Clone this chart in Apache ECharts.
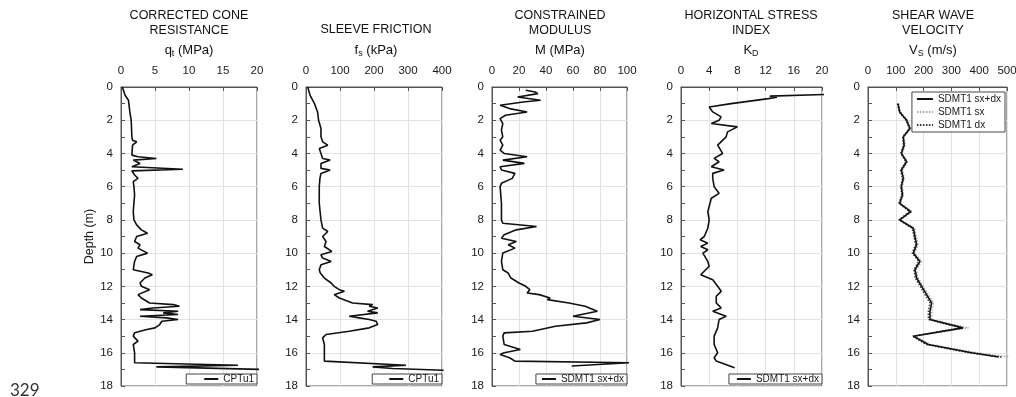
<!DOCTYPE html>
<html>
<head>
<meta charset="utf-8">
<script src="https://cdn.jsdelivr.net/npm/echarts@6/dist/echarts.min.js"></script>
<style>
  html, body { margin: 0; padding: 0; background: #fff; }
  #chart { width: 1016px; height: 397px; }
</style>
</head>
<body>
<div id="chart"></div>
<script>
// depth profiles (depth in m)
const qtDepth = [0, 0.5, 0.8, 1.5, 2, 3, 3.2, 3.3, 3.5, 4.1, 4.2, 4.3, 4.4, 4.6, 4.8, 4.95, 5.05, 5.3, 5.5, 5.7, 6, 6.5, 7, 7.5, 8, 8.3, 8.6, 8.8, 9.0, 9.3, 9.5, 9.7, 10.0, 10.2, 10.5, 11, 11.2, 11.3, 11.5, 11.8, 12, 12.2, 12.5, 12.7, 13.0, 13.1, 13.2, 13.3, 13.4, 13.5, 13.6, 13.7, 13.8, 13.9, 14.0, 14.1, 14.3, 14.5, 14.6, 14.8, 15.0, 15.3, 15.5, 16, 16.6, 16.75, 16.85, 16.9, 17.0]
const qt = [0.2, 0.6, 1.1, 1.3, 1.5, 1.6, 1.7, 2.3, 1.7, 1.6, 2.5, 5.2, 1.8, 2.8, 1.6, 9.1, 1.6, 2.0, 2.5, 1.8, 1.9, 2.0, 1.9, 1.8, 1.9, 2.3, 3.0, 3.9, 2.3, 2.0, 2.8, 2.5, 3.9, 2.3, 2.0, 1.8, 4.0, 4.6, 3.5, 2.8, 3.0, 4.2, 2.5, 3.0, 4.2, 7.7, 8.6, 4.7, 2.8, 8.4, 6.2, 8.4, 2.8, 6.7, 8.4, 6.0, 5.7, 5.0, 3.8, 2.0, 1.8, 2.5, 1.8, 2.0, 2.0, 17.2, 5.2, 5.0, 20.5]

const fsDepth = [0, 0.5, 1, 1.5, 2, 2.5, 3, 3.3, 3.5, 3.7, 4, 4.3, 4.4, 4.6, 4.9, 5.0, 5.2, 5.5, 6, 7, 8, 8.5, 8.7, 9, 9.3, 9.6, 9.9, 10.1, 10.3, 10.5, 10.7, 11, 11.2, 11.5, 11.8, 12.0, 12.2, 12.3, 12.5, 12.7, 13.0, 13.1, 13.2, 13.3, 13.5, 13.6, 13.8, 13.9, 14.0, 14.1, 14.3, 14.5, 14.7, 14.9, 15.1, 15.5, 16, 16.5, 16.6, 16.75, 16.85, 16.95, 17.05]
const fs = [5, 12, 25, 34, 37, 44, 44, 49, 64, 39, 44, 49, 71, 44, 44, 71, 44, 41, 39, 39, 44, 49, 64, 49, 59, 54, 76, 44, 49, 74, 44, 39, 42, 54, 74, 83, 98, 113, 83, 98, 137, 196, 186, 211, 181, 211, 127, 157, 186, 206, 211, 186, 127, 59, 49, 54, 54, 54, 59, 294, 196, 255, 405]

const mDepth = [0.2, 0.3, 0.4, 0.6, 0.8, 0.9, 1.1, 1.3, 1.5, 1.7, 1.9, 2.2, 2.6, 3.0, 3.2, 3.5, 3.8, 4.0, 4.2, 4.4, 4.6, 4.8, 5.0, 5.2, 5.5, 5.8, 6, 7, 8, 8.2, 8.4, 8.6, 8.9, 9.1, 9.3, 9.5, 9.7, 10, 10.5, 11, 11.2, 11.5, 11.8, 12.0, 12.2, 12.4, 12.5, 12.7, 12.8, 13.0, 13.2, 13.5, 13.8, 14.0, 14.2, 14.4, 14.7, 14.8, 15.0, 15.5, 15.8, 16.0, 16.1, 16.3, 16.5, 16.6, 16.8]
const modulus = [25, 32, 34, 19, 36, 23, 6, 13, 26, 10, 6, 8, 7, 8, 6, 8, 6, 9, 26, 8, 24, 6, 7, 17, 15, 7, 6, 7, 7, 8, 33, 18, 9, 7, 18, 12, 17, 8, 7, 8, 12, 14, 20, 25, 28, 26, 35, 43, 41, 57, 69, 78, 60, 80, 70, 47, 30, 9, 8, 9, 21, 9, 6, 13, 17, 102, 59]

const kdDepth = [0.45, 0.55, 0.62, 0.7, 1.0, 1.2, 1.5, 1.8, 2.0, 2.2, 2.4, 2.7, 3.0, 3.5, 4.0, 4.3, 4.5, 4.8, 5.0, 5.2, 5.5, 6.0, 6.4, 6.7, 7.5, 8, 8.5, 9, 9.2, 9.4, 9.6, 9.8, 10.0, 10.5, 10.8, 11.0, 11.3, 11.6, 12.0, 12.3, 12.6, 13.0, 13.3, 13.5, 13.8, 14.0, 14.5, 15, 15.5, 16, 16.3, 16.5, 16.6, 16.9]
const kd = [20.5, 12.6, 13.6, 12.4, 7.1, 4.0, 4.5, 5.7, 5.4, 4.3, 8.0, 6.6, 6.4, 5.2, 5.9, 4.7, 5.4, 4.3, 6.1, 4.5, 4.5, 4.7, 5.4, 4.3, 3.8, 4.0, 3.8, 3.3, 2.7, 3.8, 2.8, 3.8, 3.1, 3.8, 4.0, 3.5, 2.8, 4.5, 5.2, 5.7, 5.0, 5.0, 5.7, 4.5, 6.4, 5.4, 5.2, 4.7, 4.7, 5.2, 4.7, 5.0, 5.0, 7.6]

const vsDepth = [1.0, 1.5, 2.0, 2.5, 3.0, 3.5, 4.0, 4.5, 5.0, 5.5, 6.0, 6.5, 7.0, 7.5, 8.0, 8.5, 9.0, 9.5, 10.0, 10.5, 11.0, 11.5, 12.0, 12.5, 13.0, 13.5, 14.0, 14.5, 15.0, 15.5, 16.0, 16.25]
const vsMean = [108, 114, 139, 151, 127, 130, 120, 139, 120, 127, 120, 124, 114, 154, 114, 163, 169, 175, 163, 187, 169, 175, 193, 211, 229, 223, 223, 342, 163, 217, 373, 470]
const vsSx = [110, 117, 142, 155, 130, 134, 123, 142, 124, 131, 123, 128, 117, 160, 118, 168, 174, 180, 168, 193, 174, 181, 199, 218, 236, 230, 230, 362, 168, 225, 392, 505]
const vsDx = [106, 112, 137, 148, 125, 127, 118, 136, 117, 124, 118, 121, 111, 149, 111, 159, 165, 171, 159, 182, 165, 170, 188, 205, 223, 217, 217, 334, 159, 210, 362, 480]

const depthTicks = [0, 18, 2]

const FONT = "'Liberation Sans', Arial, sans-serif"
const NARROW = "'Liberation Sans Narrow', 'Liberation Sans', Arial, sans-serif"

const toPoints = (depths, vals) => vals.map((v, i) => [v, depths[i]])

const panels = [
    { left: 121, width: 136, max: 20, interval: 5, title: 'CORRECTED CONE\nRESISTANCE', unit: 'q{sub|t} (MPa)', cx: 189 },
    { left: 306, width: 136, max: 400, interval: 100, title: 'SLEEVE FRICTION', unit: 'f{sub|s} (kPa)', cx: 376 },
    { left: 492, width: 135, max: 100, interval: 20, title: 'CONSTRAINED\nMODULUS', unit: 'M (MPa)', cx: 560 },
    { left: 681, width: 141, max: 20, interval: 4, title: 'HORIZONTAL STRESS\nINDEX', unit: 'K{sub|D}', cx: 751 },
    { left: 868, width: 139, max: 500, interval: 100, title: 'SHEAR WAVE\nVELOCITY', unit: 'V{sub|S} (m/s)', cx: 933 }
]

const line = (name, idx, data, extra) => Object.assign({
    name: name,
    type: 'line',
    xAxisIndex: idx,
    yAxisIndex: idx,
    data: data,
    symbol: 'none',
    clip: true,
    lineStyle: { color: '#111', width: 1.6 },
    itemStyle: { color: '#111' }
}, extra || {})

const series = [
    line('CPTu1', 0, toPoints(qtDepth, qt)),
    line('CPTu1', 1, toPoints(fsDepth, fs)),
    line('SDMT1 sx+dx', 2, toPoints(mDepth, modulus)),
    line('SDMT1 sx+dx', 3, toPoints(kdDepth, kd)),
    line('SDMT1 sx', 4, toPoints(vsDepth, vsSx), {
        lineStyle: { color: '#aaa', width: 1.4, type: [1.5, 1.5] }, itemStyle: { color: '#aaa' }
    }),
    line('SDMT1 dx', 4, toPoints(vsDepth, vsDx), {
        lineStyle: { color: '#333', width: 1.4, type: [1.5, 1.5] }, itemStyle: { color: '#333' }
    }),
    line('SDMT1 sx+dx', 4, toPoints(vsDepth, vsMean))
]

const legendBase = {
    borderColor: '#444',
    borderWidth: 1,
    borderRadius: 0,
    itemWidth: 14,
    itemHeight: 8,
    itemGap: 1,
    itemStyle: { opacity: 0 },
    textStyle: { fontSize: 10, color: '#1a1a1a', fontFamily: FONT },
    backgroundColor: '#fff'
}

const legends = [
    Object.assign({}, legendBase, { data: ['CPTu1'], right: 1016 - 257, bottom: 13, padding: [0, 3, 0, 17] }),
    Object.assign({}, legendBase, { data: ['CPTu1'], right: 1016 - 442, bottom: 13, padding: [0, 3, 0, 16] }),
    Object.assign({}, legendBase, { data: ['SDMT1 sx+dx'], right: 1016 - 627, bottom: 13, padding: [0, 3, 0, 5] }),
    Object.assign({}, legendBase, { data: ['SDMT1 sx+dx'], right: 1016 - 822, bottom: 13, padding: [0, 3, 0, 7] }),
    Object.assign({}, legendBase, {
        data: ['SDMT1 sx+dx', 'SDMT1 sx', 'SDMT1 dx'], orient: 'vertical', align: 'left',
        right: 1016 - 1005, top: 92, padding: [2, 4, 2, 4], itemGap: 3, itemWidth: 16
    })
]

const titleTexts = []
panels.forEach(p => {
    const twoLines = p.title.indexOf('\n') >= 0
    titleTexts.push({
        type: 'text', x: p.cx, y: twoLines ? 23 : 30,
        style: {
            text: p.title, align: 'center', verticalAlign: 'middle',
            fontSize: 12.5, lineHeight: 14.5, fontFamily: FONT, fill: '#111'
        }
    })
    titleTexts.push({
        type: 'text', x: p.cx, y: 50,
        style: {
            text: p.unit, align: 'center', verticalAlign: 'middle',
            fontSize: 13, fontFamily: FONT, fill: '#111',
            rich: { sub: { fontSize: 9, fontFamily: FONT, fill: '#111', padding: [7, 0, 0, 0] } }
        }
    })
})
titleTexts.push({
    type: 'text', x: 10, y: 382,
    style: { text: '329', fontSize: 17, fontFamily: "Lato, 'Open Sans', sans-serif", fill: '#333' }
})

const myChart = echarts.init(document.querySelector('#chart'), null, { renderer: 'canvas' })
myChart.setOption({
    animation: false,
    backgroundColor: '#fff',
    grid: panels.map(p => ({
        left: p.left, width: p.width, top: 87, height: 299,
        show: true, borderColor: '#555', borderWidth: 1, backgroundColor: 'transparent',
        containLabel: false, outerBoundsMode: 'none'
    })),
    xAxis: panels.map((p, i) => ({
        type: 'value',
        gridIndex: i,
        position: 'top',
        min: 0,
        max: p.max,
        interval: p.interval,
        axisLine: { show: true, lineStyle: { color: '#555', width: 1 } },
        axisTick: { show: true, inside: true, length: 4, lineStyle: { color: '#555' } },
        axisLabel: { fontSize: 11.5, color: '#1a1a1a', margin: 10, fontFamily: NARROW, hideOverlap: false, showMinLabel: true, showMaxLabel: true },
        splitLine: { show: true, lineStyle: { color: '#e2e2e2', width: 1 } }
    })),
    yAxis: panels.map((p, i) => ({
        type: 'value',
        gridIndex: i,
        inverse: true,
        min: depthTicks[0],
        max: depthTicks[1],
        interval: depthTicks[2],
        name: i === 0 ? 'Depth (m)' : '',
        nameLocation: 'middle',
        nameGap: 25,
        nameTextStyle: { fontSize: 12.5, color: '#1a1a1a', fontFamily: FONT },
        axisLine: { show: true, lineStyle: { color: '#555', width: 1 } },
        axisTick: { show: true, inside: true, length: 4, lineStyle: { color: '#555' } },
        minorTick: { show: true, splitNumber: 2, length: 4, lineStyle: { color: '#555' } },
        axisLabel: { fontSize: 11.5, color: '#1a1a1a', margin: 8, fontFamily: NARROW, hideOverlap: false, showMinLabel: true, showMaxLabel: true },
        splitLine: { show: true, lineStyle: { color: '#e2e2e2', width: 1 } }
    })),
    legend: legends,
    graphic: titleTexts,
    series: series
})
</script>
</body>
</html>
